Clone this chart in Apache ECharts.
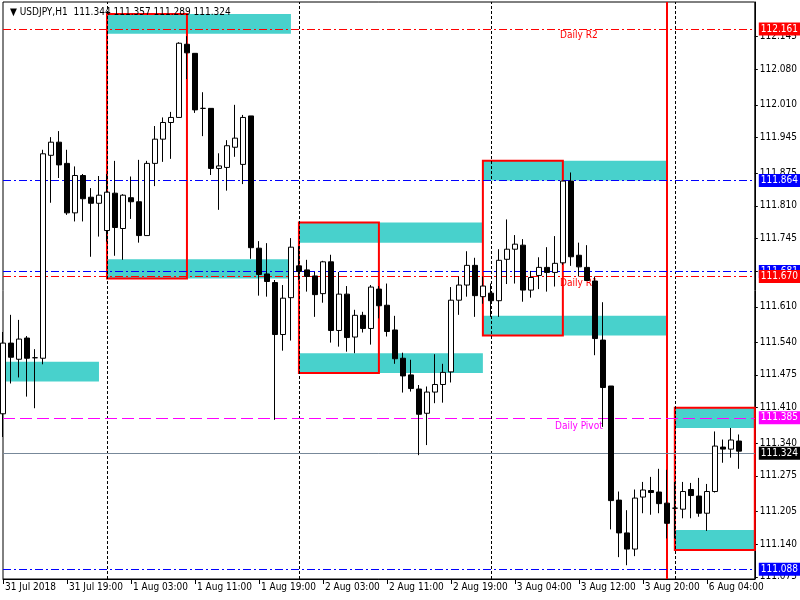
<!DOCTYPE html>
<html><head><meta charset="utf-8">
<script src="https://cdn.jsdelivr.net/npm/echarts@6/dist/echarts.min.js"></script>
<style>html,body{margin:0;padding:0;background:#fff}#c{width:800px;height:600px}</style>
</head><body><div id="c"></div>
<script>
const FONT = "'DejaVu Sans Condensed','Liberation Sans',sans-serif";

// bar times (H1), grouped by trading day: [day, firstHour, lastHour]
const daySegments = [['31 Jul',11,23],['1 Aug',0,23],['2 Aug',0,23],['3 Aug',1,23],['6 Aug',0,8]];
const futureSlots = ['f1','f2'];
const categories = [];
daySegments.forEach(([d,a,b]) => { for (let h=a; h<=b; h++) categories.push(d+' '+String(h).padStart(2,'0')+':00'); });

const opens = [111.398,111.538,111.506,111.548,111.509,111.508,111.910,111.936,111.894,111.796,
111.870,111.827,111.815,111.761,111.835,111.765,111.826,111.818,111.751,111.894,
111.942,111.975,111.985,112.130,112.112,112.003,112.003,111.884,111.886,111.926,
111.892,111.988,111.726,111.675,111.658,111.555,111.628,111.691,111.683,111.671,
111.636,111.699,111.563,111.635,111.550,111.593,111.567,111.645,111.613,111.564,
111.508,111.475,111.447,111.399,111.441,111.456,111.481,111.623,111.653,111.692,
111.630,111.637,111.622,111.704,111.724,111.732,111.643,111.672,111.688,111.678,
111.697,111.859,111.712,111.688,111.661,111.544,111.453,111.227,111.162,111.130,
111.233,111.246,111.243,111.221,111.211,111.209,111.248,111.235,111.201,111.244,
111.332,111.328,111.344];
const highs = [111.560,111.594,111.584,111.552,111.526,111.921,111.946,111.958,111.921,111.888,
111.873,111.845,111.869,111.873,111.899,111.833,111.868,111.901,111.899,111.968,
111.985,111.996,112.134,112.146,112.112,112.035,112.003,111.914,111.940,112.010,
111.990,111.988,111.740,111.736,111.663,111.653,111.746,111.730,111.703,111.679,
111.701,111.713,111.679,111.651,111.604,111.600,111.653,111.651,111.656,111.592,
111.519,111.505,111.455,111.452,111.516,111.497,111.649,111.670,111.720,111.707,
111.670,111.656,111.724,111.783,111.752,111.744,111.681,111.708,111.728,111.750,
111.859,111.876,111.737,111.732,111.670,111.619,111.453,111.244,111.207,111.248,
111.263,111.273,111.289,111.287,111.263,111.263,111.261,111.271,111.259,111.363,
111.347,111.370,111.357];
const lows = [111.352,111.458,111.470,111.432,111.409,111.496,111.816,111.865,111.792,111.779,
111.779,111.709,111.749,111.739,111.711,111.703,111.784,111.737,111.751,111.849,
111.897,111.903,111.985,112.061,111.994,111.948,111.871,111.802,111.840,111.907,
111.853,111.705,111.632,111.630,111.386,111.523,111.543,111.663,111.640,111.590,
111.618,111.539,111.531,111.521,111.518,111.559,111.535,111.587,111.551,111.497,
111.440,111.442,111.316,111.336,111.419,111.420,111.460,111.594,111.630,111.590,
111.616,111.590,111.590,111.655,111.656,111.620,111.628,111.645,111.640,111.650,
111.693,111.691,111.670,111.662,111.514,111.372,111.169,111.114,111.098,111.116,
111.201,111.198,111.201,111.151,111.151,111.191,111.191,111.194,111.166,111.242,
111.301,111.311,111.289];
const closes = [111.538,111.510,111.546,111.508,111.509,111.913,111.936,111.891,111.796,111.870,
111.824,111.815,111.831,111.837,111.767,111.831,111.818,111.751,111.894,111.942,
111.975,111.985,112.132,112.113,112.000,112.003,111.884,111.889,111.929,111.944,
111.985,111.727,111.674,111.660,111.555,111.627,111.728,111.680,111.670,111.634,
111.699,111.563,111.635,111.549,111.593,111.567,111.649,111.612,111.561,111.507,
111.473,111.448,111.397,111.441,111.456,111.480,111.623,111.653,111.692,111.632,
111.651,111.622,111.702,111.724,111.734,111.643,111.668,111.688,111.678,111.696,
111.859,111.709,111.689,111.662,111.547,111.450,111.226,111.162,111.130,111.231,
111.247,111.242,111.220,111.181,111.211,111.244,111.236,111.201,111.244,111.334,
111.328,111.346,111.324];

const xTickLabels = ['31 Jul 2018','31 Jul 19:00','1 Aug 03:00','1 Aug 11:00','1 Aug 19:00','2 Aug 03:00',
  '2 Aug 11:00','2 Aug 19:00','3 Aug 04:00','3 Aug 12:00','3 Aug 20:00','6 Aug 04:00'];
const xTickStep = 8;
const yTickValues = [111.075,111.140,111.205,111.275,111.340,111.410,111.475,111.540,111.610,111.680,
  111.745,111.810,111.875,111.945,112.010,112.080,112.145];
const yRange = [111.0707, 112.2137];

const daySeparators = [13, 37, 61, 84];
const sessionLine = [83];
// zones: [startBar, topPrice, endBar, bottomPrice]
const cyanZones = [[13,112.190,36,112.151],[13,111.704,36,111.666],[0,111.501,12,111.462],
  [37,111.777,60,111.737],[37,111.518,60,111.479],[60,111.899,83,111.860],[60,111.592,83,111.553],
  [84,111.410,94,111.370],[84,111.168,94,111.128]];
const redBoxes = [[13,112.190,23,111.666],[37,111.777,47,111.479],[60,111.899,70,111.553],[84,111.410,94,111.128]];
// horizontal levels
const levelPrices = [112.161, 111.864, 111.681, 111.670, 111.385, 111.324, 111.088];
const levelKinds  = ['r', 'b', 'b', 'r', 'p', 'bid', 'b'];
const pivotTextNames = ['Daily R2', 'Daily R1', 'Daily Pivot'];
const pivotTextPrices = [112.161, 111.670, 111.385];
const pivotTextBar = 72;

const levelStyle = {
  r:   {line:{color:'#ff0000', type:[8,3,2,3], width:1}, bg:'#ff0000'},
  b:   {line:{color:'#0000ff', type:[8,3,2,3], width:1}, bg:'#0000ff'},
  p:   {line:{color:'#ff00ff', type:[12,5], width:1}, bg:'#ff00ff'},
  bid: {line:{color:'#778899', type:'solid', width:1}, bg:'#000000'}
};
const textColors = ['#ff0000', '#ff0000', '#ff00ff'];

const markAreaData = [];
cyanZones.forEach(z => markAreaData.push([
  {xAxis:z[0], yAxis:z[1], itemStyle:{color:'#48D1CC', borderWidth:0}}, {xAxis:z[2], yAxis:z[3]}]));
redBoxes.forEach(z => markAreaData.push([
  {xAxis:z[0], yAxis:z[1], itemStyle:{color:'rgba(0,0,0,0)', borderColor:'#ff0000', borderWidth:2}}, {xAxis:z[2], yAxis:z[3]}]));

const markLineData = [];
daySeparators.forEach(i => markLineData.push({xAxis:i, lineStyle:{color:'#000', type:[3,2], width:1}, label:{show:false}}));
sessionLine.forEach(i => markLineData.push({xAxis:i, lineStyle:{color:'#ff0000', type:'solid', width:2}, label:{show:false}}));
levelPrices.forEach((p, k) => {
  const st = levelStyle[levelKinds[k]];
  markLineData.push({yAxis:p, lineStyle:st.line, label:{show:true, position:'end', distance:4,
    formatter: p.toFixed(3), backgroundColor:st.bg, color:'#fff', padding:[1,2,0,2],
    fontSize:10, fontFamily:FONT, lineHeight:12}});
});

const markPointData = pivotTextNames.map((n, k) => ({name:n, coord:[pivotTextBar, pivotTextPrices[k]],
  label:{color:textColors[k]}}));

const chart = echarts.init(document.getElementById('c'));
chart.setOption({
  animation:false,
  backgroundColor:'#fff',
  title:{text:'\u25BC USDJPY,H1  111.344 111.357 111.289 111.324', left:5, top:2,
    textStyle:{fontSize:10, fontWeight:'normal', color:'#000', fontFamily:FONT}},
  grid:{left:3, right:45, top:2, bottom:21, show:true, borderColor:'#000', borderWidth:1, backgroundColor:'#fff'},
  xAxis:{type:'category', data:categories.concat(futureSlots), boundaryGap:false,
    axisLine:{show:true, lineStyle:{color:'#000'}},
    axisTick:{show:true, interval:(i)=>i%xTickStep===0, length:5, lineStyle:{color:'#000'}},
    axisLabel:{interval:(i)=>i%xTickStep===0, formatter:(v,i)=>xTickLabels[i/xTickStep]||'',
      align:'left', margin:3, padding:[0,0,0,2], fontSize:10, color:'#000', fontFamily:FONT},
    splitLine:{show:false}},
  yAxis:{type:'value', position:'right', min:yRange[0], max:yRange[1],
    axisLine:{show:true, lineStyle:{color:'#000'}},
    axisTick:{show:true, length:3, customValues:yTickValues, lineStyle:{color:'#000'}},
    axisLabel:{customValues:yTickValues, formatter:v=>Number(v).toFixed(3), margin:5,
      fontSize:10, color:'#000', fontFamily:FONT},
    splitLine:{show:false}},
  series:[{
    type:'candlestick', z:3, clip:false, barWidth:5,
    data: opens.map((o,i)=>[o, closes[i], lows[i], highs[i]]),
    itemStyle:{color:'#ffffff', color0:'#000000', borderColor:'#000', borderColor0:'#000', borderColorDoji:'#000', borderWidth:1},
    emphasis:{disabled:true},
    markArea:{z:1, silent:true, label:{show:false}, data:markAreaData},
    markLine:{z:2, silent:true, symbol:['none','none'], animation:false, data:markLineData},
    markPoint:{z:2, silent:true, symbol:'circle', symbolSize:1, itemStyle:{color:'rgba(0,0,0,0)'},
      label:{show:true, position:'bottom', distance:1, formatter:'{b}', fontSize:10, fontFamily:FONT},
      data:markPointData}
  }]
});
</script></body></html>
